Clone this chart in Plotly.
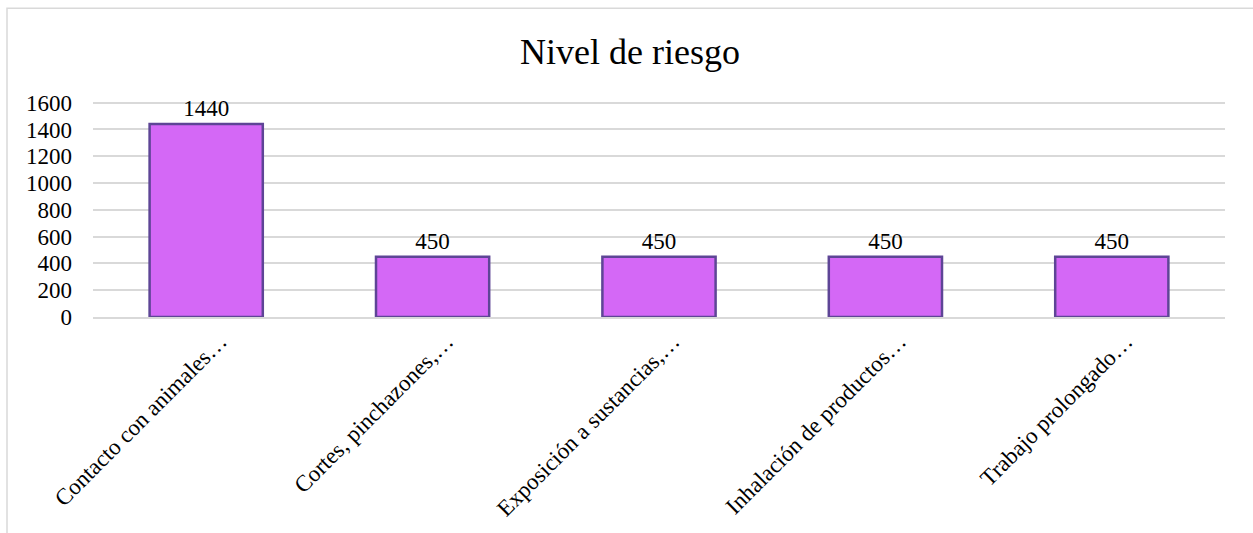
import plotly.graph_objects as go

categories = ["Contacto con animales…", "Cortes, pinchazones,…", "Exposición a sustancias,…",
              "Inhalación de productos…", "Trabajo prolongado…"]
values = [1440, 450, 450, 450, 450]
y_ticks = [0, 200, 400, 600, 800, 1000, 1200, 1400, 1600]

FONT = "Liberation Serif"

fig = go.Figure()
fig.add_trace(go.Bar(
    x=categories, y=values,
    marker=dict(color="#D468F6", line=dict(color="#5E4596", width=2.5)),
    text=[str(v) for v in values], textposition="outside",
    textfont=dict(family=FONT, size=23, color="#000000"),
    cliponaxis=False,
))

W, H = 1253, 533
L, R, T, B = 93, 28, 100, 213
pw = W - L - R
ph = H - T - B
fig.add_shape(type="rect", xref="paper", yref="paper",
              x0=(7 - L) / pw, x1=(1258 - L) / pw,
              y0=(H - B - 545) / ph, y1=(H - B - 7) / ph,
              line=dict(color="#D9D9D9", width=1.5), fillcolor="rgba(0,0,0,0)", layer="below")

fig.update_layout(
    width=W, height=H,
    margin=dict(l=L, r=R, t=T, b=B),
    paper_bgcolor="white", plot_bgcolor="white",
    bargap=0.5,
    showlegend=False,
    title=dict(text="Nivel de riesgo", x=630 / W, xref="container", xanchor="center",
               y=1 - 51 / H, yanchor="middle",
               font=dict(family=FONT, size=36, color="#000000")),
    font=dict(family=FONT, size=23, color="#000000"),
    xaxis=dict(tickangle=-45, showgrid=False, showline=True, linecolor="#D9D9D9", linewidth=1.5,
               tickfont=dict(family=FONT, size=23, color="#000000"), ticks="",
               ticklabelshift=14),
    yaxis=dict(range=[0, 1620], tickvals=y_ticks, showgrid=True, gridcolor="#D9D9D9", gridwidth=1.5,
               zeroline=False, showline=False, ticks="",
               tickfont=dict(family=FONT, size=23, color="#000000"), ticklabelstandoff=20),
)

fig.write_html("out.html", config={"displayModeBar": False},
               post_script="document.body.style.margin='0';document.body.style.overflow='hidden';")
